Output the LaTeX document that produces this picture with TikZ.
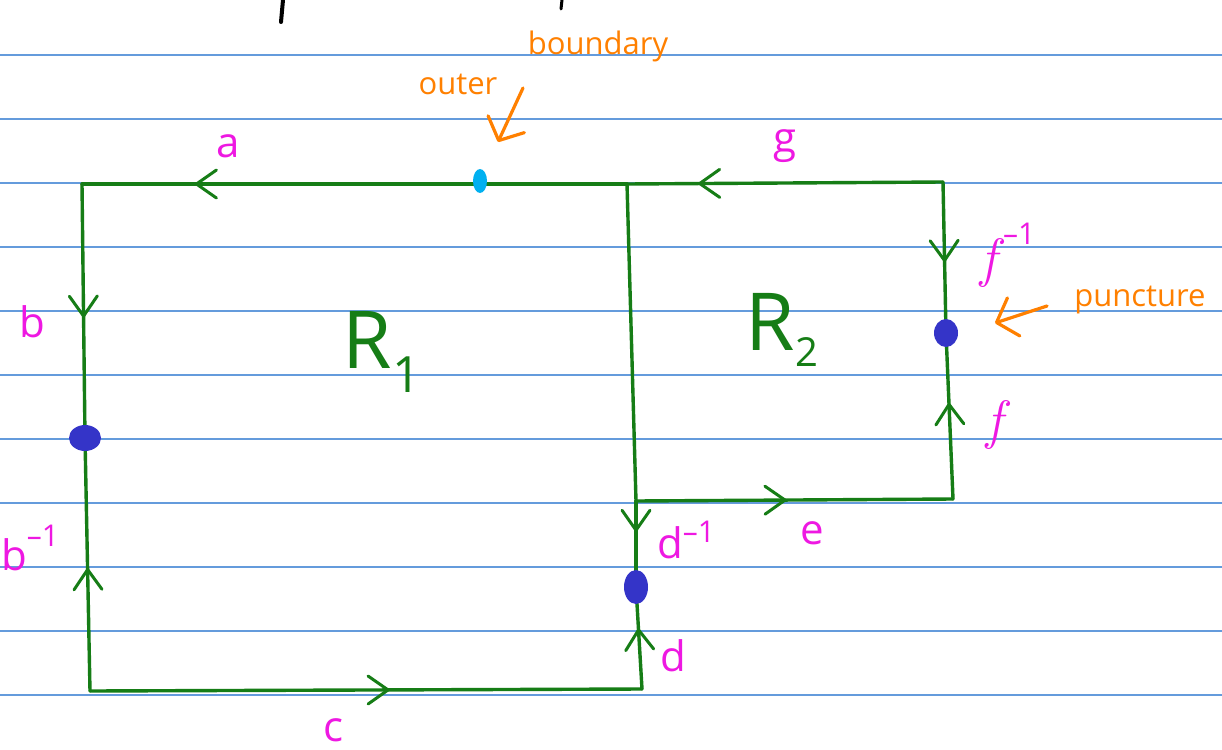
\documentclass[tikz,border=0pt]{standalone}
\usepackage{fontspec}
\setsansfont{Open Sans}
\usetikzlibrary{arrows.meta,decorations.markings}
\definecolor{pen}{RGB}{22,125,22}
\definecolor{lab}{RGB}{238,24,226}
\definecolor{ora}{RGB}{255,128,0}
\definecolor{rule}{RGB}{100,155,220}
\definecolor{dotb}{RGB}{52,52,200}
\definecolor{dotl}{RGB}{0,176,240}
\tikzset{
  ruleline/.style={rule,line width=1.3pt},
  edge/.style={pen,line width=3.4pt,line cap=round,line join=round},
  midarr/.style={postaction={decorate},decoration={markings,mark=at position #1 with {\draw[pen,line width=3pt,line cap=round,line join=round] (-20pt,-14pt) -- (0pt,0pt) -- (-20pt,14pt);}}},
  lbl/.style={lab,font=\sffamily\fontsize{42}{44}\selectfont,inner sep=0pt},
  reg/.style={pen,font=\sffamily\fontsize{80}{84}\selectfont,inner sep=0pt},
  note/.style={ora,font=\sffamily\fontsize{31}{33}\selectfont,inner sep=0pt},
  notearr/.style={ora,line width=3.2pt,line cap=round,line join=round,-{Straight Barb[length=18pt,width=40pt,round]}},
}
\newcommand{\supm}[1]{\raisebox{#1}{\sffamily\upshape\fontsize{30}{30}\selectfont\textendash1}}
\begin{document}
\begin{tikzpicture}[x=1pt,y=-1pt]
\useasboundingbox (0,0) rectangle (1222,749);
\fill[white] (0,0) rectangle (1222,749);
% ruled paper
\foreach \yy in {55,119,183,247,311,375,439,503,567,631,695}
  \draw[ruleline] (0,\yy) -- (1222,\yy);
% cut-off handwriting at top
\draw[black,line width=4pt,line cap=round] (283,0) -- (281,22);
\draw[black,line width=3pt,line cap=round] (562,0) -- (561,9);
% corners and points
\coordinate (TL) at (82,184);
\coordinate (TM) at (627,184);
\coordinate (TR) at (943,182);
\coordinate (BL) at (90,691);
\coordinate (BM) at (642,689);
\coordinate (BR) at (953,499);
\coordinate (E)  at (636,501);
\coordinate (P1) at (85,438);
\coordinate (P2) at (946,333);
\coordinate (P3) at (636,587);
% edges
\draw[edge,midarr=0.79] (TM) -- (TL);
\draw[edge,midarr=0.77] (TR) -- (TM);
\draw[edge,midarr=0.52] (TL) -- (P1);
\draw[edge,midarr=0.48] (BL) -- (P1);
\draw[edge,midarr=0.54] (BL) -- (BM);
\draw[edge,midarr=0.58] (BM) -- (P3);
\draw[edge] (TM) -- (E);
\draw[edge,midarr=0.34] (E) -- (P3);
\draw[edge,midarr=0.47] (E) -- (BR);
\draw[edge,midarr=0.57] (BR) -- (P2);
\draw[edge,midarr=0.52] (TR) -- (P2);
% points
\fill[dotl] (480,181) ellipse (7pt and 12pt);
\fill[dotb] (P1) ellipse (16pt and 13pt);
\fill[dotb] (P2) ellipse (12pt and 14pt);
\fill[dotb] (P3) ellipse (12pt and 17pt);
% edge labels
\node[lbl] (la) at (228,146) {a};
\node[lbl] (lg) at (785,146) {g};
\node[lbl] (lb) at (32,322) {b};
\node[lbl] (lbi) at (30,548) {b\supm{0.55em}};
\node[lbl] (lc) at (333,730) {c};
\node[lbl] (ldi) at (686,540) {d\supm{0.4em}};
\node[lbl] (ld) at (673,656) {d};
\node[lbl] (le) at (812,533) {e};
\node[lbl,font=\itshape\fontsize{54}{56}\selectfont] (lfi) at (1008,255) {f\kern6pt\supm{0.6em}};
\node[lbl,font=\itshape\fontsize{54}{56}\selectfont] (lf) at (995,425) {f};
% regions
\node[reg] (R1) at (382,352) {R\raisebox{-0.3em}{\fontsize{50}{50}\selectfont 1}};
\node[reg] (R2) at (782,330) {R\raisebox{-0.2em}{\fontsize{40}{40}\selectfont 2}};
% annotations
\node[note] (outer) at (458,84) {outer};
\node[note] (bdy) at (598,46) {boundary};
\coordinate (ob) at (498,142);
\draw[notearr] (523,88) -- (ob);
\node[note] (punc) at (1140,300) {puncture};
\coordinate (pk) at (995,323);
\draw[notearr] (1047,306) -- (pk);
\end{tikzpicture}
\end{document}
